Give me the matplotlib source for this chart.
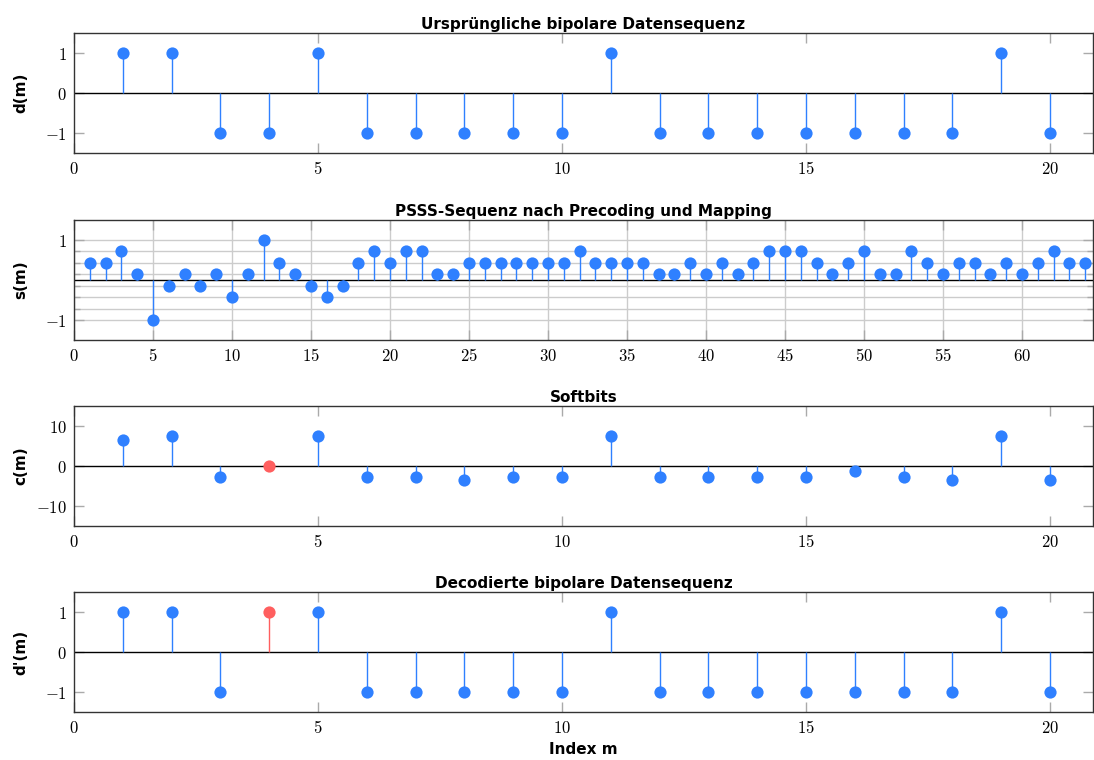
import numpy as np
import matplotlib.pyplot as plt

plt.rcParams['mathtext.fontset'] = 'cm'
plt.rcParams['font.family'] = ['DejaVu Sans']

BLUE = '#2f80ff'
RED = '#ff5f5f'

# bipolar data sequence d(m), m = 1..20
m_data = np.arange(1, 21)
d_orig = [1, 1, -1, -1, 1, -1, -1, -1, -1, -1, 1, -1, -1, -1, -1, -1, -1, -1, 1, -1]

# PSSS sequence after precoding and mapping, levels k/7
m_psss = np.arange(1, 65)
s_levels = [3, 3, 5, 1, -7, -1, 1, -1, 1, -3, 1, 7, 3, 1, -1, -3, -1, 3, 5, 3,
            5, 5, 1, 1, 3, 3, 3, 3, 3, 3, 3, 5, 3, 3, 3, 3, 1, 1, 3, 1,
            3, 1, 3, 5, 5, 5, 3, 1, 3, 5, 1, 1, 5, 3, 1, 3, 3, 1, 3, 1,
            3, 5, 3, 3]
s_psss = np.array(s_levels) / 7.0

# softbits c(m)
c_soft = [6.4, 7.5, -2.8, 0.0, 7.5, -2.8, -2.8, -3.4, -2.8, -2.8, 7.5, -2.8, -2.8, -2.8, -2.8,
          -1.2, -2.8, -3.4, 7.5, -3.4]

# decoded bipolar data d'(m)
d_dec = [1, 1, -1, 1, 1, -1, -1, -1, -1, -1, 1, -1, -1, -1, -1, -1, -1, -1, 1, -1]

err_idx = [3]  # m = 4 (zero based index)

fig = plt.figure(figsize=(10.94, 7.6), dpi=100)
left, width, height = 74 / 1094, 1019 / 1094, 120 / 760
bottoms = [1 - 153 / 760, 1 - 340 / 760, 1 - 526 / 760, 1 - 712 / 760]
axes = [fig.add_axes([left, b, width, height]) for b in bottoms]


def draw_stems(ax, x, y, red=()):
    x = np.asarray(x)
    y = np.asarray(y, dtype=float)
    ax.axhline(0, color='black', lw=1.0, zorder=2)
    for xi, yi in zip(x, y):
        col = RED if (xi - 1) in red else BLUE
        ax.vlines(xi, 0, yi, color=col, lw=1.0, zorder=3)
        ax.plot(xi, yi, 'o', color=col, ms=8.8, mec='none', zorder=4)


def style(ax, title, ylabel, xmax, xstep):
    ax.set_xlim(0, xmax)
    ax.set_xticks(np.arange(0, xmax, xstep))
    ax.set_xticklabels(['$%d$' % v for v in np.arange(0, xmax, xstep)])
    ax.tick_params(direction='in', length=7, width=1, color='#aaaaaa', labelsize=12,
                   top=True, right=True, pad=5)
    ax.tick_params(which='minor', direction='in', length=4, width=1, color='#aaaaaa',
                   top=False, right=True, left=True)
    ax.set_title(title, fontsize=11, fontweight='bold', pad=3)
    ax.set_ylabel(ylabel, fontsize=11, fontweight='bold', labelpad=6)
    for sp in ax.spines.values():
        sp.set_color('#333333')
        sp.set_linewidth(1.0)


def ylabels(vals):
    return ['$%d$' % v if v >= 0 else r'$-%d$' % (-v) for v in vals]


# panel 1
ax = axes[0]
draw_stems(ax, m_data, d_orig)
style(ax, 'Ursprüngliche bipolare Datensequenz', 'd(m)', 20.88, 5)
ax.set_ylim(-1.5, 1.5)
ax.set_yticks([-1, 0, 1])
ax.set_yticklabels(ylabels([-1, 0, 1]))

# panel 2
ax = axes[1]
draw_stems(ax, m_psss, s_psss)
style(ax, 'PSSS-Sequenz nach Precoding und Mapping', 's(m)', 64.5, 5)
ax.set_ylim(-1.5, 1.5)
ax.set_yticks([-1, 1])
ax.set_yticklabels(ylabels([-1, 1]))
grid_lv = np.array([-5, -3, -1, 1, 3, 5]) / 7.0
ax.set_yticks(grid_lv, minor=True)
ax.grid(True, which='both', color='#cccccc', lw=1.0, zorder=0)
ax.set_axisbelow(True)

# panel 3
ax = axes[2]
draw_stems(ax, m_data, c_soft, red=err_idx)
style(ax, 'Softbits', 'c(m)', 20.88, 5)
ax.set_ylim(-15, 15)
ax.set_yticks([-10, 0, 10])
ax.set_yticklabels(ylabels([-10, 0, 10]))

# panel 4
ax = axes[3]
draw_stems(ax, m_data, d_dec, red=err_idx)
style(ax, 'Decodierte bipolare Datensequenz', "d'(m)", 20.88, 5)
ax.set_ylim(-1.5, 1.5)
ax.set_yticks([-1, 0, 1])
ax.set_yticklabels(ylabels([-1, 0, 1]))
ax.set_xlabel('Index m', fontsize=11, fontweight='bold', labelpad=4)

for ax in axes:
    ax.yaxis.set_label_coords(-0.045, 0.5)

fig.savefig('out.png', dpi=100)
